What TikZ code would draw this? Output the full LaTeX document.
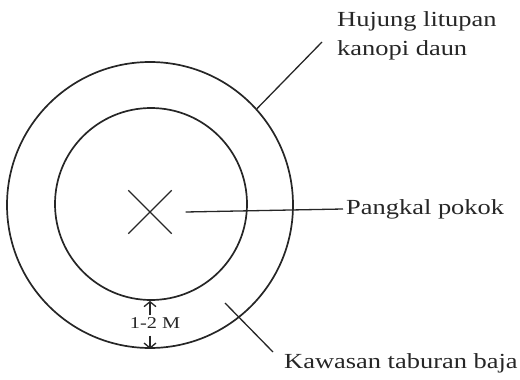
\documentclass[tikz,border=0pt]{standalone}
\usepackage{fontspec}
\setmainfont{Liberation Serif}[FakeStretch=1.23]
\usepackage{tikz}
\usetikzlibrary{positioning,arrows.meta,shapes.misc,calc}

\begin{document}
\begin{tikzpicture}[x=1pt, y=-1pt, >={Straight Barb[length=5pt,width=12pt]},
  color=black!85, font=\fontsize{21.5}{29}\selectfont,
  ring/.style={draw,circle,inner sep=0pt,line width=1.7pt},
  lead/.style={line width=1.3pt},
  lbl/.style={anchor=west,inner sep=3pt,align=left}]
  \useasboundingbox (0,0) rectangle (520,380);
  \node[ring,minimum size=286pt](outer) at (150,205){};
  \node[ring,minimum size=192pt](inner) at (151,204){};
  \node[cross out,draw,line width=1.3pt,minimum size=42pt,inner sep=0pt](pokok) at (150,212){};
  % labels
  \node[lbl,anchor=north west](hujung) at (334,8){Hujung litupan\\kanopi daun};
  \node[lbl](pangkal) at (343,209){Pangkal pokok};
  \node[lbl,anchor=base west](kawasan) at (281,368){Kawasan taburan baja};
  \node[font=\fontsize{16.5}{20}\selectfont,inner sep=2pt](jarak) at (155,323){1-2 M};
  % leaders
  \coordinate (hujungend) at (322,42);
  \coordinate (kawasanstart) at (225,303); \coordinate (kawasanend) at (273,352);
  \draw[lead](outer.42)--(hujungend);
  \draw[lead]([xshift=14pt]pokok.east)--(pangkal.west);
  \draw[lead](kawasanstart)--(kawasanend);
  \draw[->,lead](jarak.north -| pokok.center)--(inner.south -| pokok.center);
  \draw[->,lead,shorten <=5pt](jarak.south -| pokok.center)--(outer.south -| pokok.center);
\end{tikzpicture}
\end{document}
